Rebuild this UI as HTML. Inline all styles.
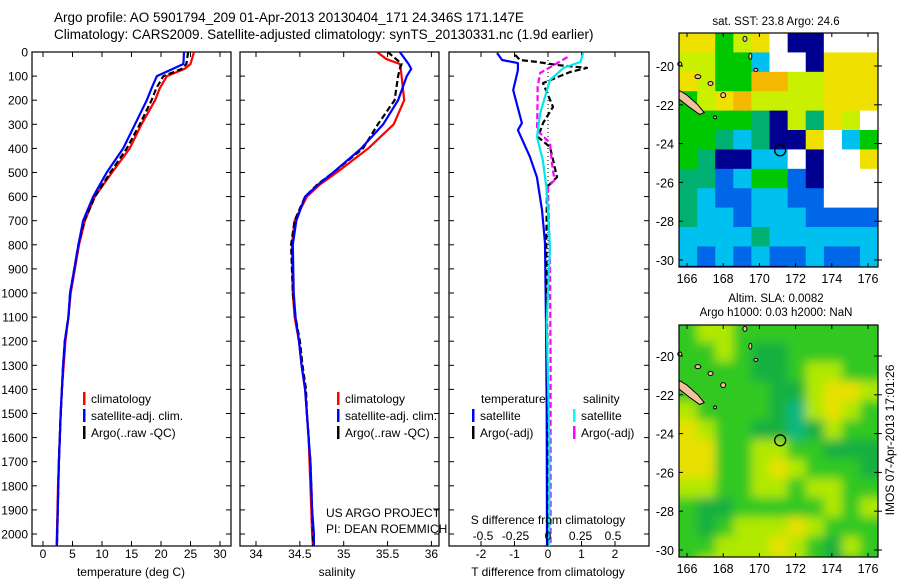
<!DOCTYPE html>
<html><head><meta charset="utf-8"><style>
body{margin:0;background:#fff;}
svg{display:block;font-family:"Liberation Sans","DejaVu Sans",sans-serif;}
</style></head><body>
<svg id="c" width="900" height="580" viewBox="0 0 900 580">
<defs>
<filter id="blur" x="0" y="0" width="1" height="1"><feGaussianBlur stdDeviation="5"/></filter>
<clipPath id="clipSla"><rect x="679" y="325" width="199" height="232"/></clipPath>
</defs>
<rect width="900" height="580" fill="#fff"/>
<text x="54" y="22" font-size="13.5">Argo profile: AO 5901794_209 01-Apr-2013 20130404_171 24.346S 171.147E</text>
<text x="54" y="39" font-size="13.5">Climatology: CARS2009. Satellite-adjusted climatology: synTS_20130331.nc (1.9d earlier)</text>
<g id="g"></g>
</svg>
<script>
// ---- data ----
const tDepth = [0,50,70,100,150,200,300,400,500,600,700,800,900,1000,1100,1200,1300,1400,1500,1600,1700,1800,1900,2000,2050];
const tClim  = [25.6,25.0,24.0,21.0,19.8,19.0,16.7,14.7,11.7,8.8,7.1,6.1,5.4,4.7,4.3,3.8,3.5,3.2,3.0,2.85,2.7,2.55,2.45,2.35,2.3];
const tSat   = [23.9,23.8,22.0,19.3,18.4,17.6,15.6,13.6,10.8,8.5,6.8,6.0,5.3,4.6,4.3,3.7,3.4,3.2,3.0,2.85,2.7,2.6,2.5,2.4,2.35];
const tArgo  = [24.6,24.3,23.5,20.4,19.2,18.4,16.4,14.2,11.4,8.8,7.0,6.0,5.3,4.6,4.3,3.7,3.4,3.2,3.0,2.85,2.7,2.6,2.5,2.4,2.35];
const sDepth = [0,30,50,70,100,200,300,400,500,550,600,700,800,1000,1100,1200,1300,1400,1500,1600,1700,1800,1900,2000,2050];
const sClim  = [35.38,35.49,35.64,35.65,35.66,35.69,35.57,35.28,34.92,34.73,34.58,34.44,34.41,34.42,34.44,34.49,34.52,34.56,34.58,34.60,34.61,34.62,34.63,34.64,34.65];
const sSat   = [35.64,35.70,35.74,35.77,35.72,35.62,35.45,35.20,34.88,34.71,34.56,34.46,34.42,34.43,34.45,34.49,34.52,34.56,34.58,34.60,34.62,34.63,34.64,34.66,34.66];
const sArgo  = [35.50,35.60,35.66,35.64,35.62,35.58,35.39,35.22,34.88,34.70,34.56,34.44,34.40,34.42,34.45,34.50,34.53,34.57,34.58,34.60,34.62,34.63,34.64,34.65,34.65];
const dtSatDepth = [4,33,46,75,158,295,324,435,519,655,792,1124,1500,2050];
const dtSat      = [-1.52,-1.37,-0.9,-0.9,-1.04,-0.78,-0.9,-0.54,-0.33,-0.18,-0.09,-0.06,-0.04,-0.03];
const dtArgoDepth = [12,33,41,54,66,83,129,228,295,353,394,519,560,800,1200,1600,2050];
const dtArgo      = [-0.98,-0.84,-0.33,0.27,1.16,0.66,-0.15,0.15,-0.15,-0.3,0.06,0.27,-0.03,-0.05,-0.02,0.0,0.0];
const dsSatDepth = [4,41,66,116,253,353,448,573,809,1124,1600,2050];
const dsSat      = [0.27,0.25,0.12,0.015,-0.06,-0.085,-0.04,-0.01,0.015,-0.01,0.01,0.01];
const dsArgoDepth = [21,87,145,199,324,378,461,531,560,876,1300,2050];
const dsArgo      = [0.15,-0.06,-0.08,-0.08,-0.085,0.015,0.03,0.05,0.0,0.015,0.02,0.02];
const depthTicks = [0,100,200,300,400,500,600,700,800,900,1000,1100,1200,1300,1400,1500,1600,1700,1800,1900,2000];
const tTicks = [0,5,10,15,20,25,30];
const sTicks = [34,34.5,35,35.5,36];
const sTickLabels = ["34","34.5","35","35.5","36"];
const dTTicks = [-2,-1,0,1,2];
const dSTicks = [-0.5,-0.25,0,0.25,0.5];
const dSTickLabels = ["-0.5","-0.25","0","0.25","0.5"];
const lonTicks = [166,168,170,172,174,176];
const latTicks = [-20,-22,-24,-26,-28,-30];
const sstRows = ["YYGLYWNNWWW","LLGGCWWNYYY","YLGGOOLLYYY","GLYOLLLLYYY","GGGGTNLTYLW","GGTCTNNYWCG","GTNNCCWNWWY","TTBCGGBNWWW","TCBBCCBBWWW","TCCBCCCBBBB","CCCCTCCCCCC","CBCBCBBCBBC","NNNNNNBBBBC"];
const slaRows = ["GLLGGGGGGGG","GGLGDDGGGGG","GGGGDDGLLGG","GGGGGDDLYYL","LGGGGDTLYLG","YLGGDDTDLGG","YYGGLLGGDDD","YYGGLYLGGGD","LLGGLLGLLGG","GDDGGGGGLGL","GDGLLLYLGGG","GGLLLYLGDLG","GLLLLLLGDGG"];
const argoLon = 171.147, argoLat = -24.346;

// ---- helpers ----
const NS="http://www.w3.org/2000/svg";
const G=document.getElementById('g');
function mk(tag,attrs,parent){const e=document.createElementNS(NS,tag);for(const k in attrs)e.setAttribute(k,attrs[k]);(parent||G).appendChild(e);return e;}
function txt(x,y,s,size,anchor,parent){const e=mk('text',{x:x,y:y,'font-size':size||12,'text-anchor':anchor||'start'},parent);e.textContent=s;return e;}
const yD = d => 52 + d*0.241;
const PT={l:32,r:231}, PS={l:240,r:439}, PD={l:449,r:649};
const xT = v => 43 + v*5.9;
const xS = v => 256 + (v-34)*87.7;
const xDT = v => 548 + v*33.5;
const xDS = v => 548 + v*130;

function frame(p,name){
  const r=mk('rect',{x:p.l,y:52,width:p.r-p.l,height:494,fill:'none',stroke:'#000','stroke-width':1.2});
  
  
  depthTicks.forEach(d=>{mk('line',{x1:p.l,x2:p.l+5,y1:yD(d),y2:yD(d),stroke:'#000'});mk('line',{x1:p.r-5,x2:p.r,y1:yD(d),y2:yD(d),stroke:'#000'});});
}
function xticks(p,ticks,fx,labels,y){
  ticks.forEach((t,i)=>{const x=fx(t);
    mk('line',{x1:x,x2:x,y1:52,y2:57,stroke:'#000'});
    mk('line',{x1:x,x2:x,y1:541,y2:546,stroke:'#000'});
    const e=txt(x,y,labels?labels[i]:String(t),12,'middle');
    
    
  });
}
function line(xs,ds,fx,color,name,dash,w){
  const pts=xs.map((v,i)=>fx(v).toFixed(1)+','+yD(ds[i]).toFixed(1)).join(' ');
  const e=mk('polyline',{points:pts,fill:'none',stroke:color,'stroke-width':w||2.2,'stroke-linejoin':'round'});
  if(dash)e.setAttribute('stroke-dasharray',dash);
  
  
}
function legend(x,y,items){
  items.forEach((it,i)=>{const yy=y+i*17;
    mk('rect',{x:x,y:yy-11,width:2.5,height:13,fill:it[0]});
    const e=txt(x+8,yy,it[1],12);
    
    
  });
}

depthTicks.forEach(d=>{const e=txt(28,yD(d)+4.5,String(d),12,'end');
  
  });

// panel 1
frame(PT,'temperature-panel');
xticks(PT,tTicks,xT,null,558);
line(tClim,tDepth,xT,'#ff0000','temp-climatology-line');
line(tArgo,tDepth,xT,'#000000','temp-argo-line','6,3');
line(tSat,tDepth,xT,'#0000ff','temp-satellite-line');
{const e=txt(131,576,'temperature (deg C)',12,'middle');}
legend(83,403,[['#f00','climatology'],['#00f','satellite-adj. clim.'],['#000','Argo(..raw -QC)']]);

// panel 2
frame(PS,'salinity-panel');
xticks(PS,sTicks,xS,sTickLabels,558);
line(sClim,sDepth,xS,'#ff0000','sal-climatology-line');
line(sArgo,sDepth,xS,'#000000','sal-argo-line','6,3');
line(sSat,sDepth,xS,'#0000ff','sal-satellite-line');
{const e=txt(337,576,'salinity',12,'middle');}
legend(337,403,[['#f00','climatology'],['#00f','satellite-adj. clim.'],['#000','Argo(..raw -QC)']]);
{const e=txt(326,517,'US ARGO PROJECT',12);
 const f=txt(326,533,'PI: DEAN ROEMMICH',12);}

// panel 3
frame(PD,'difference-panel');
xticks(PD,dTTicks,xDT,null,558);
mk('line',{x1:548,x2:548,y1:60,y2:300,stroke:'#000','stroke-dasharray':'1,3'});
line(dtSat,dtSatDepth,xDT,'#0000ff','tdiff-satellite-line');
line(dtArgo,dtArgoDepth,xDT,'#000000','tdiff-argo-line','6,3');
line(dsArgo,dsArgoDepth,xDS,'#ff00ff','sdiff-argo-line','6,3');
line(dsSat,dsSatDepth,xDS,'#00e8e8','sdiff-satellite-line');
dSTicks.forEach((t,i)=>{const e=txt(xDS(t),540,dSTickLabels[i],12,'middle');});
{const e=txt(548,524,'S difference from climatology',12,'middle');
 const f=txt(548,576,'T difference from climatology',12,'middle');}
{const e=txt(481,403,'temperature',12);
 const f=txt(583,403,'salinity',12);}
legend(472,420,[['#00f','satellite'],['#000','Argo(-adj)']]);
legend(573,420,[['#0ff','satellite'],['#f0f','Argo(-adj)']]);

// ---- maps ----
const mapColors={Y:'#f0e000',L:'#c8f000',G:'#00c800',T:'#00b070',C:'#00c0f0',B:'#0068e8',N:'#000090',W:'#ffffff',O:'#f5b800',D:'#10b040'};
const slaColors={G:'#30c820',D:'#14b040',T:'#10b880',L:'#b0e800',Y:'#e8e000'};
function drawMap(top,bottom,rows,cols,name,latZero,smooth){
  const gx=mk('g',{});
  
  
  const xL = lon => 687 + (lon-166)*18.1;
  const yL = lat => latZero + (-20-lat)*19.4;
  const cellParent = smooth ? mk('g',{'clip-path':'url(#clipSla)'},gx) : gx;
  const cells = smooth ? mk('g',{filter:'url(#blur)'},cellParent) : gx;
  rows.forEach((row,r)=>{[...row].forEach((ch,c)=>{
    const lat0=-18.3-r, lon0=165.56+c;
    let x0=xL(lon0), x1=xL(lon0+1), y0=yL(lat0), y1=yL(lat0-1);
    if(!smooth){x0=Math.max(679,x0);x1=Math.min(878,x1);y0=Math.max(top,y0);y1=Math.min(bottom,y1);}
    else{ if(c===0)x0-=12; if(c===row.length-1)x1+=12; if(r===0)y0-=12; if(r===rows.length-1)y1+=12; }
    if(x1>x0&&y1>y0) mk('rect',{x:x0,y:y0,width:x1-x0+0.5,height:y1-y0+0.5,fill:cols[ch]},cells);
  });});
  const isl=[[165.56,-21.25],[166.0,-21.5],[166.6,-22.0],[166.95,-22.4],[166.7,-22.5],[166.1,-22.1],[165.56,-21.7]];
  mk('polygon',{points:isl.map(p=>xL(p[0])+','+yL(p[1])).join(' '),fill:'#f5c0a0',stroke:'#000','stroke-width':1},gx);
  [[167.3,-20.9,2.5,2],[168.0,-21.5,2.5,2.5],[169.2,-18.6,2,2.5],[169.5,-19.5,1.5,3],[166.6,-20.55,3,2],[169.8,-20.2,2,1.5],[167.55,-22.65,1.5,1.5],[165.6,-19.9,2,2]].forEach(p=>{
    mk('ellipse',{cx:xL(p[0]),cy:yL(p[1]),rx:p[2],ry:p[3],fill:'#f5c0a0',stroke:'#000','stroke-width':1},gx);});
  mk('circle',{cx:xL(argoLon),cy:yL(argoLat),r:5.5,fill:'none',stroke:'#000','stroke-width':1.3},gx);
  mk('rect',{x:679,y:top,width:199,height:bottom-top,fill:'none',stroke:'#000','stroke-width':1.2},gx);
  lonTicks.forEach(l=>{const x=xL(l);mk('line',{x1:x,x2:x,y1:top,y2:top+4,stroke:'#000'},gx);mk('line',{x1:x,x2:x,y1:bottom-4,y2:bottom,stroke:'#000'},gx);
    const e=txt(x,bottom+16,String(l),12.5,'middle',gx);});
  latTicks.forEach(l=>{const y=yL(l);mk('line',{x1:679,x2:683,y1:y,y2:y,stroke:'#000'},gx);mk('line',{x1:874,x2:882,y1:y,y2:y,stroke:'#000'},gx);
    const e=txt(674,y+5,String(l),12.5,'end',gx);});
}
drawMap(33,267,sstRows,mapColors,'sst-map',66,false);
drawMap(325,557,slaRows,slaColors,'sla-map',356,true);
{const e=txt(776,25,'sat. SST: 23.8 Argo: 24.6',11.5,'middle');
 const f=txt(776,302,'Altim. SLA: 0.0082',11.5,'middle');
 const h=txt(776,316,'Argo h1000: 0.03 h2000: NaN',11.5,'middle');
 const k=txt(0,0,'IMOS 07-Apr-2013 17:01:26',12,'middle');k.setAttribute('transform','translate(894,440) rotate(-90)');}
</script>
</body></html>
